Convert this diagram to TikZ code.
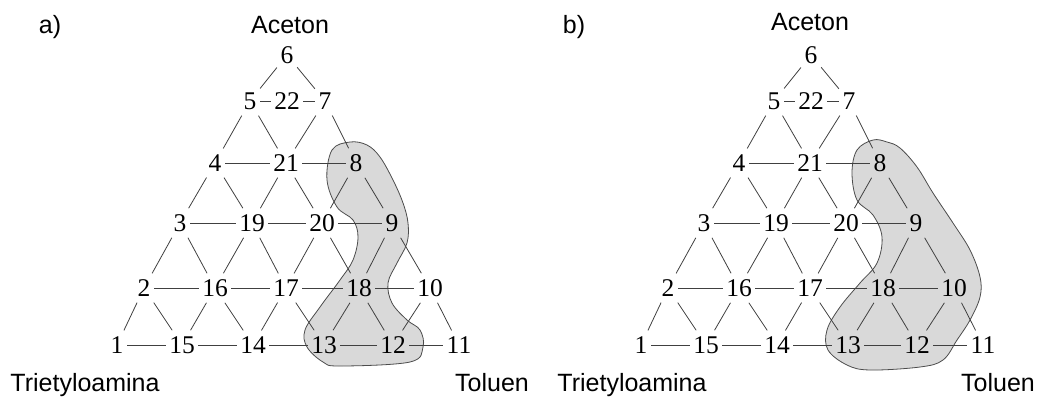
\documentclass[tikz,border=0pt]{standalone}
\usepackage{fontspec}
\setmainfont{Liberation Serif}
\newfontfamily\arialfont{Liberation Sans}
\tikzset{
  num/.style={inner xsep=3.5pt,inner ysep=6pt,font=\fontsize{25.5}{27}\selectfont},
  kreska/.style={line width=0.8pt,black!75},
  obszar/.style={line width=0.8pt,draw=black!70,fill=gray!30},
  opis/.style={anchor=base,font=\arialfont\fontsize{25}{28}\selectfont}
}
\newcommand\siatka{%
  \foreach \n/\x/\y in {1/117/345,15/182/345,14/253/345,13/324/345,12/393/345,11/459/345,
      2/144/288,16/215/288,17/286/288,18/359/288,10/430/288,
      3/180/223,19/252/223,20/322/223,9/392/223,
      4/215/163,21/286/163,8/356/163,
      5/250/101,22/287/101,7/325/101,6/287/55}
    \node[num] (n\n) at (\x,\y) {\n};
  \foreach \a/\b in {1/15,15/14,14/13,13/12,12/11,2/16,16/17,17/18,18/10,
      3/19,19/20,20/9,4/21,21/8,5/22,22/7,
      6/5,6/7,5/4,5/21,7/21,7/8,4/3,4/19,21/19,21/20,8/20,8/9,
      3/2,3/16,19/16,19/17,20/17,20/18,9/18,9/10,
      2/1,2/15,16/15,16/14,17/14,17/13,18/13,18/12,10/12,10/11}
    \draw[kreska] (n\a) -- (n\b);
}
\begin{document}
\begin{tikzpicture}[x=1pt,y=-1pt]
  \useasboundingbox (0,0) rectangle (1040,397);
  % a)
  \draw[obszar] plot[smooth cycle,tension=0.6] coordinates {(350,142) (332,150) (327,180) (337,207)
    (353,220) (358,237) (353,260) (340,280) (320,307) (305,330) (307,347) (323,362) (340,366)
    (410,362) (423,347) (420,330) (407,320) (392,303) (388,283) (397,263) (407,243) (408,223)
    (403,203) (393,180) (380,157) (367,145)};
  \begin{scope}[name prefix=a-]
    \siatka
  \end{scope}
  \node[opis] (etA) at (50,33) {a)};
  \node[opis] (acA) at (290,33) {Aceton};
  \node[opis] (trA) at (85,391) {Trietyloamina};
  \node[opis] (toA) at (492,391) {Toluen};
  % b)
  \draw[obszar] plot[smooth cycle,tension=0.6] coordinates {(873,140) (857,150) (852,173) (857,200)
    (873,215) (882,237) (877,263) (860,283) (840,307) (827,330) (828,350) (847,365) (870,370)
    (920,367) (943,360) (957,340) (970,320) (980,297) (980,277) (970,250) (953,223) (933,193)
    (917,167) (900,148) (887,142)};
  \begin{scope}[xshift=524pt,name prefix=b-]
    \siatka
  \end{scope}
  \node[opis] (etB) at (574,33) {b)};
  \node[opis] (acB) at (810,30) {Aceton};
  \node[opis] (trB) at (632,391) {Trietyloamina};
  \node[opis] (toB) at (998,391) {Toluen};
\end{tikzpicture}
\end{document}
